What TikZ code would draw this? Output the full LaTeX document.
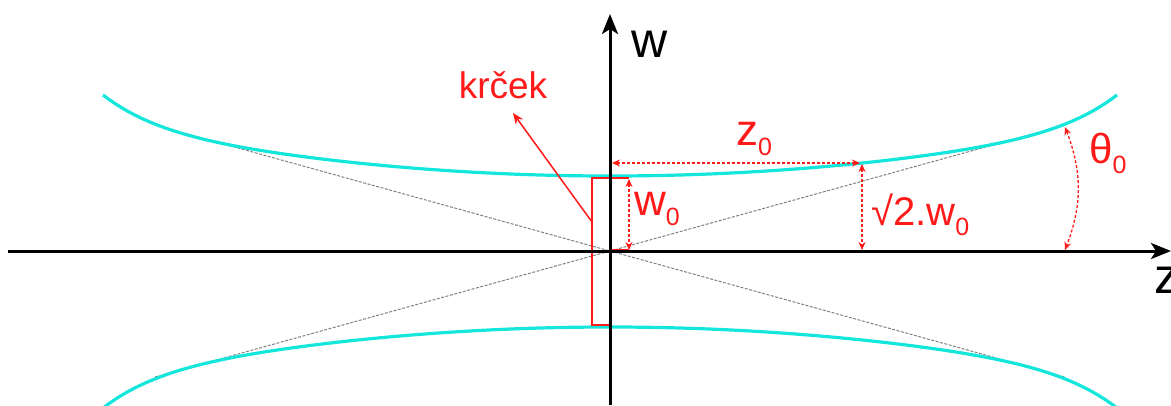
\documentclass[tikz,border=0pt]{standalone}
\usepackage{fontspec}
\setmainfont{Liberation Sans}
\usetikzlibrary{arrows.meta}
\definecolor{beam}{RGB}{20,230,220}
\definecolor{myred}{RGB}{255,25,25}
\newcommand\lsub[2][25]{\raisebox{-10pt}{\fontsize{#1}{#1}\selectfont #2}}
\begin{document}
\begin{tikzpicture}[x=1pt,y=-1pt,
  axis/.style={line width=3pt,-{Stealth[length=20pt,width=16pt,inset=5pt]}},
  beamline/.style={beam,line width=3.2pt},
  guide/.style={gray,line width=1pt,dash pattern=on 3pt off 1.5pt},
  dim/.style={myred,line width=1.3pt,dash pattern=on 3pt off 2pt,
    {Stealth[length=8pt,width=7pt]}-{Stealth[length=8pt,width=7pt]}},
  redline/.style={myred,line width=1.5pt},
  lbl/.style={myred,inner sep=0pt}
]
\useasboundingbox (0,0) rectangle (1171,405);

% guide lines (far-field asymptotes)
\coordinate (gul) at (155,125);
\coordinate (gur) at (1065,125);
\coordinate (gll) at (155,377);
\coordinate (glr) at (1065,377);
\draw[guide] (gul) -- (glr);
\draw[guide] (gll) -- (gur);

% beam envelope
\draw[beamline] plot[domain=-507:507,samples=160,variable=\d]
  ({610+\d},{251-75-52.4*(abs(\d)/507)^2-28.6*(abs(\d)/507)^10});
\draw[beamline] plot[domain=-507:507,samples=160,variable=\d]
  ({610+\d},{252+75+52.4*(abs(\d)/507)^2+28.6*(abs(\d)/507)^10});

% waist rectangle
\draw[redline] (629,178) -- (592,178) -- (592,325) -- (610,325);
\draw[redline] (610,250) -- (629,250);

% axes
\coordinate (xs) at (8,251);
\coordinate (xe) at (1171,251);
\coordinate (ys) at (610,405);
\coordinate (ye) at (610,14);
\draw[axis] (xs) -- (xe);
\draw[axis] (ys) -- (ye);
\node[anchor=base west,inner sep=0pt,font=\fontsize{50}{54}\selectfont] (wlab) at (631,57) {w};
\node[anchor=base west,inner sep=0pt,font=\fontsize{50}{54}\selectfont] (zlab) at (1154,293) {z};

% krcek
\node[lbl,anchor=base,font=\fontsize{37}{40}\selectfont] (krcek) at (503,98) {krček};
\coordinate (kfrom) at (592,222);
\coordinate (kto) at (513,113);
\draw[redline,-{Stealth[length=11pt,width=9pt]}] (kfrom) -- (kto);

% dimensions
\coordinate (zA) at (860,163);
\coordinate (zB) at (612,163);
\draw[dim] (zA) -- (zB);
\node[lbl,anchor=base west,font=\fontsize{44}{48}\selectfont] (z0) at (736,145) {z\lsub{0}};

\coordinate (sA) at (862,164);
\coordinate (sB) at (862,250);
\draw[dim] (sA) -- (sB);
\node[lbl,anchor=base west,font=\fontsize{40}{44}\selectfont] (s2) at (871,225) {√2.w\lsub{0}};

\coordinate (wA) at (629,179);
\coordinate (wB) at (629,250);
\draw[dim] (wA) -- (wB);
\node[lbl,anchor=base west,font=\fontsize{44}{48}\selectfont] (w0) at (634,215) {w\lsub{0}};

\coordinate (tA) at (1065,127);
\coordinate (tB) at (1065,250);
\draw[dim] (tA) to[bend left=21] (tB);
\node[lbl,anchor=base west,font=\fontsize{42}{46}\selectfont] (t0) at (1089,163) {θ\lsub{0}};
\end{tikzpicture}
\end{document}
